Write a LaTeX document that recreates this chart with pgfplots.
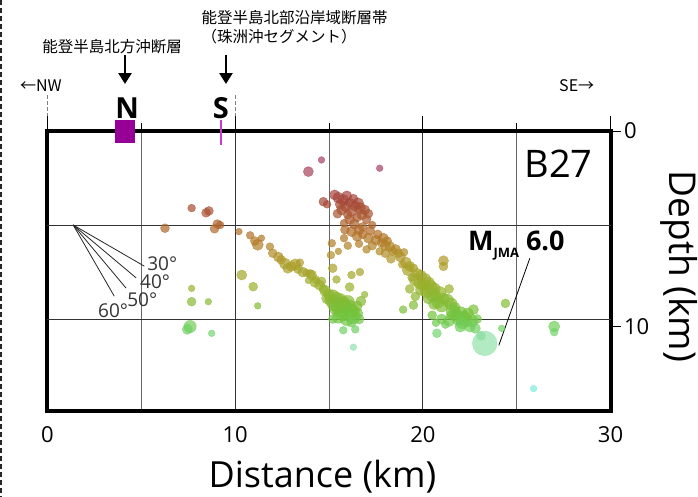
\documentclass[border=0pt]{standalone}
\usepackage{fontspec}
\setmainfont{Open Sans}
\newfontfamily\jp{Noto Sans CJK JP}
\usepackage{pgfplots}
\usepackage{pgfplotstable}
\pgfplotsset{compat=1.18}
\usetikzlibrary{arrows.meta}

% hypocentres: distance along profile (km), depth (km), marker radius (pt)
\pgfplotstableread{
x d s
7.68 4.10 3.5
8.45 4.35 4.0
8.60 4.25 4.0
9.05 4.95 4.0
8.90 5.20 4.0
9.20 5.00 3.5
6.26 5.17 4.0
10.20 5.35 3.0
10.80 5.55 3.5
11.20 6.05 5.0
11.05 5.85 4.0
11.40 5.70 3.0
11.85 6.15 3.5
12.00 6.50 4.0
12.30 6.70 4.5
12.45 6.85 4.0
12.65 7.05 5.0
12.80 7.30 4.5
13.00 7.20 4.5
13.20 7.10 5.0
13.35 7.35 4.0
13.45 7.00 3.5
13.60 7.50 4.5
13.80 7.55 3.5
14.00 7.60 4.0
14.07 7.66 4.5
14.25 8.05 4.5
14.30 7.90 3.5
14.50 8.20 4.5
14.60 8.00 4.0
14.70 8.40 4.0
13.90 7.95 3.0
10.35 7.66 4.5
10.96 8.28 4.0
11.20 9.30 3.0
7.68 8.37 3.0
7.68 9.08 4.0
8.57 9.08 3.0
7.60 10.40 5.5
7.45 10.55 4.5
8.75 10.76 3.0
14.80 8.50 5.0
14.90 8.90 5.0
15.00 8.70 5.0
15.10 9.00 5.5
15.20 8.80 6.0
15.30 9.20 6.5
15.40 8.90 5.5
15.60 9.00 6.0
15.80 9.10 5.0
15.50 9.30 6.5
15.60 9.55 6.5
15.80 9.30 6.5
16.00 9.10 6.0
15.90 9.40 6.0
16.10 9.35 6.0
16.20 9.55 6.0
16.30 9.60 5.5
16.00 9.70 7.0
15.95 10.00 6.0
16.30 9.90 6.0
15.70 9.80 5.0
15.50 9.90 5.5
16.50 9.30 4.5
16.50 9.70 5.0
16.60 10.00 4.5
16.70 9.05 4.5
15.30 9.50 4.5
15.20 10.00 4.0
16.20 10.20 4.0
15.76 10.60 3.5
16.40 10.55 3.5
16.30 11.50 3.0
16.10 8.30 4.0
16.20 7.66 3.5
16.65 7.50 3.5
15.20 7.30 4.0
15.10 6.60 3.5
15.15 5.97 3.5
15.40 7.90 3.5
16.90 8.70 3.0
13.90 2.16 4.5
14.60 1.54 3.0
17.70 1.98 3.0
14.70 3.76 4.0
14.90 3.90 3.5
15.30 3.40 4.5
15.50 3.55 5.0
15.95 3.45 4.5
16.30 3.60 4.0
15.76 3.67 5.0
15.60 3.90 4.5
15.90 4.00 5.0
16.10 3.80 4.0
16.40 4.00 4.5
16.55 3.85 5.0
16.65 4.10 5.0
16.90 4.20 4.5
16.20 4.25 5.0
15.67 4.20 4.5
15.45 4.40 4.0
16.00 4.45 4.0
16.75 4.45 4.5
17.10 4.40 4.0
16.10 4.70 4.5
16.50 4.60 4.0
17.00 4.70 4.0
16.35 4.95 4.5
16.80 5.10 4.0
15.80 4.90 3.5
17.30 5.00 3.5
16.60 5.25 4.5
15.85 5.25 4.0
17.20 5.30 4.0
16.20 5.35 4.5
16.50 5.60 4.5
16.80 5.50 4.0
17.10 5.70 4.5
17.50 5.80 4.5
17.60 5.50 4.0
17.80 5.95 4.0
17.90 5.70 4.5
18.10 5.85 4.0
17.30 6.10 4.0
18.00 6.10 4.5
18.25 6.15 4.5
18.40 6.40 4.0
18.55 6.30 4.5
18.00 6.50 4.0
18.30 6.80 4.0
17.70 6.40 3.5
19.00 6.45 3.5
17.00 6.30 3.5
16.60 6.00 3.5
16.00 6.10 3.5
15.50 6.40 3.0
15.80 5.70 3.5
18.70 6.50 4.0
18.80 6.70 4.5
19.10 7.00 5.0
19.30 7.20 4.5
19.20 7.40 5.0
18.90 7.10 3.5
19.50 7.30 4.0
19.70 7.57 4.5
19.90 7.70 5.0
19.60 7.90 5.5
19.80 8.10 5.0
20.10 7.90 5.5
20.30 8.10 5.5
20.00 8.20 5.0
20.40 8.30 6.0
20.20 8.50 6.0
19.90 8.45 5.0
20.60 8.40 5.5
20.50 8.70 6.0
20.90 8.60 5.5
20.70 8.80 5.0
20.30 8.90 5.0
20.80 9.10 5.5
21.10 8.90 5.0
21.00 9.30 5.5
20.60 9.20 5.0
19.30 8.40 4.0
19.60 8.80 4.0
21.40 8.40 4.0
21.10 6.90 4.5
21.10 7.20 4.0
19.40 7.80 3.5
18.95 9.50 3.5
19.50 9.26 4.0
21.30 9.00 5.5
21.50 9.20 5.5
21.70 9.40 5.0
21.60 9.60 6.0
22.00 9.70 6.0
21.80 9.80 5.5
21.90 10.00 5.5
22.20 9.90 5.5
22.30 10.05 6.0
22.10 10.20 5.5
22.00 10.40 5.0
22.60 10.10 5.5
22.40 9.70 5.0
22.70 9.50 4.5
22.50 10.40 5.0
22.80 10.50 4.5
21.40 10.10 5.0
21.50 9.80 4.0
21.00 10.00 4.5
22.90 10.00 4.0
20.75 10.76 4.0
21.20 10.30 3.5
20.70 10.20 3.5
20.50 9.80 4.0
23.10 10.90 4.0
24.20 10.50 3.0
24.40 9.17 4.0
27.00 10.40 5.0
27.00 10.70 3.5
25.90 13.70 3.0
23.30 11.30 11.0
}\quakes

% depth colour scale of the hypocentres
\pgfplotsset{
  colormap={depthcol}{
    rgb255(0cm)=(160,50,130)
    rgb255(2cm)=(168,64,96)
    rgb255(3.8cm)=(165,70,55)
    rgb255(5.5cm)=(178,112,40)
    rgb255(7cm)=(175,155,40)
    rgb255(8.5cm)=(150,180,45)
    rgb255(9.8cm)=(115,195,60)
    rgb255(10.7cm)=(110,212,105)
    rgb255(11.3cm)=(145,225,170)
    rgb255(12.5cm)=(140,232,195)
    rgb255(14cm)=(120,240,225)
    rgb255(15cm)=(120,240,230)
  }
}

\begin{document}
\begin{tikzpicture}
\begin{axis}[
  name=ax,
  scale only axis,
  width=563pt, height=280pt,
  xmin=0, xmax=30, ymin=0, ymax=14.894,
  y dir=reverse,
  clip=false,
  axis line style={line width=4pt},
  tick align=outside,
  tick style={black, line width=0.9pt},
  major tick length=10pt,
  minor tick length=8pt,
  xtick={0,10,20,30},
  xticklabels={0,10,20,30},
  minor xtick={5,15,25},
  xtick pos=right,
  xticklabel pos=left,
  xmajorgrids, xminorgrids,
  extra x ticks={0,10,20,30},
  extra x tick labels={},
  extra x tick style={major tick length=15pt, grid=none},
  ytick={0,10.4},
  yticklabels={0,10},
  ytick pos=right,
  yticklabel pos=right,
  extra y ticks={5,10},
  extra y tick labels={},
  extra y tick style={major tick length=0pt, grid=major},
  major grid style={black!80, line width=0.8pt},
  minor grid style={black!60, line width=0.8pt},
  tick label style={font=\fontsize{22}{22}\selectfont},
  xticklabel style={yshift=-2pt},
  xlabel={Distance (km)},
  xlabel style={at={(axis cs:14.65,18.94)}, anchor=base, font=\fontsize{36}{36}\selectfont},
  ylabel={Depth (km)},
  ylabel style={at={(axis cs:33.17,7.2)}, anchor=base, rotate=180, font=\fontsize{37}{37}\selectfont},
  colormap name=depthcol,
  point meta min=0, point meta max=15,
]

\addplot[scatter, only marks, mark=*,
  point meta=\thisrow{d},
  scatter/use mapped color={draw=mapped color, fill=mapped color, fill opacity=0.7, draw opacity=0.7},
  visualization depends on={\thisrow{s} \as \msize},
  scatter/@pre marker code/.append style={/tikz/mark size=1.12*\msize}]
  table[x=x, y=d] {\quakes};

% page edge
\draw[black!85, line width=1.3pt, dash pattern=on 5pt off 3pt] (-2.478,-6.97) -- (-2.478,19.42);

% fault traces at the surface
\fill[color={rgb,255:red,150;green,0;blue,150}] (3.60,-0.59) rectangle (4.66,0.64);
\draw[color={rgb,255:red,200;green,60;blue,200}, line width=2pt] (9.25,-0.59) -- (9.25,0.74);
\draw[black!50, line width=0.8pt, dash pattern=on 4pt off 2pt] (0.02,-1.91) -- (0.02,-0.8);
\draw[black!50, line width=0.8pt, dash pattern=on 4pt off 2pt] (10,-1.91) -- (10,-0.8);
\node[anchor=base, font=\bfseries\fontsize{29}{29}\selectfont] at (4.24,-0.69) {N};
\node[anchor=base, font=\bfseries\fontsize{29}{29}\selectfont] at (9.24,-0.69) {S};

% fault names
\node[font=\jp\fontsize{15.5}{15.5}\selectfont] at (3.44,-4.47) {能登半島北方沖断層};
\node[anchor=north west, align=left, inner sep=0pt, font=\jp\fontsize{15.5}{18.5}\selectfont] at (8.2,-6.42) {能登半島北部沿岸域断層帯\\（珠洲沖セグメント）};
\draw[-{Triangle[width=13pt,length=11pt]}, line width=2.5pt] (4.13,-4.04) -- (4.13,-2.5);
\draw[-{Triangle[width=13pt,length=11pt]}, line width=2.5pt] (9.51,-4.04) -- (9.51,-2.5);

% profile orientation
\node[font=\jp\fontsize{16}{16}\selectfont] at (-0.35,-2.39) {←NW};
\node[font=\jp\fontsize{16}{16}\selectfont] at (28.2,-2.39) {SE→};

% panel name
\node[anchor=base east, inner sep=0pt, font=\fontsize{38}{38}\selectfont] at (29.06,2.45) {B27};

% dip-angle guide
\draw[black!85, line width=0.8pt] (1.37,5.0) -- (5.16,7.19);
\draw[black!85, line width=0.8pt] (1.37,5.0) -- (4.725,7.815);
\draw[black!85, line width=0.8pt] (1.37,5.0) -- (4.185,8.355);
\draw[black!85, line width=0.8pt] (1.37,5.0) -- (3.56,8.79);
\node[anchor=west, inner sep=0pt, text=black!80, font=\fontsize{19}{19}\selectfont] at (5.31,7.07) {30°};
\node[anchor=west, inner sep=0pt, text=black!80, font=\fontsize{19}{19}\selectfont] at (4.93,8.03) {40°};
\node[anchor=west, inner sep=0pt, text=black!80, font=\fontsize{19}{19}\selectfont] at (4.24,8.99) {50°};
\node[anchor=west, inner sep=0pt, text=black!80, font=\fontsize{19}{19}\selectfont] at (2.69,9.57) {60°};

% main shock annotation
\draw[black, line width=0.8pt] (24.05,11.4) -- (25.7,6.77);
\node[anchor=base west, inner sep=0pt, font=\bfseries\fontsize{27}{27}\selectfont] at (22.4,6.33) {M\raisebox{-7pt}{\fontsize{13}{13}\selectfont JMA}\hspace{7pt}6.0};

\end{axis}
\pgfresetboundingbox
\path[use as bounding box] ([shift={(-47.5pt,-85pt)}]ax.south west) rectangle ([shift={(87.5pt,131pt)}]ax.north east);
\end{tikzpicture}
\end{document}
